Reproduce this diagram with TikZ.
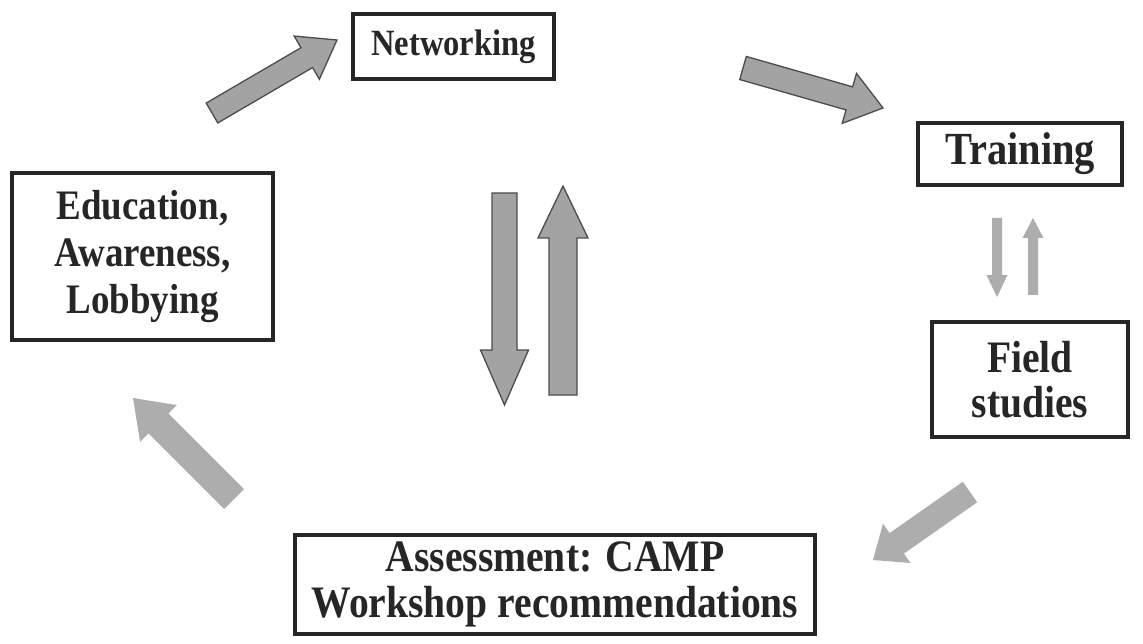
\documentclass[tikz,border=0pt]{standalone}
\usepackage{fontspec}
\setmainfont{Liberation Serif}[FakeStretch=0.88]
\usetikzlibrary{calc}
\tikzset{box/.style={draw=black!85,line width=3.2pt,fill=white,align=center,
           text=black!85,font=\bfseries,inner sep=0pt},
         darkarrow/.style={fill=gray!72,draw=black!70,line width=1.3pt,line join=miter},
         lightarrow/.style={fill=gray!64}}
% block arrow: style, tail, tip, half shaft, half head, head length
\newcommand{\blockarrow}[6][]{%
  \coordinate (ba-b) at ($(#3)!#6!(#2)$);
  \path[#1] ($(#2)!#4!90:(#3)$) -- ($(ba-b)!#4!90:(#3)$) -- ($(ba-b)!#5!90:(#3)$)
    -- (#3) -- ($(ba-b)!#5!-90:(#3)$) -- ($(ba-b)!#4!-90:(#3)$)
    -- ($(#2)!#4!-90:(#3)$) -- cycle;}

\begin{document}
\begin{tikzpicture}[x=1pt,y=-1pt]
        \useasboundingbox[fill=white](0,0)rectangle(1143,644);

        \node[box, minimum width=201pt, minimum height=65pt, font=\bfseries\fontsize{37}{45}\selectfont](net)at(453.5,46.5){Networking};
        \node[box, minimum width=204pt, minimum height=62pt, font=\bfseries\fontsize{46}{47}\selectfont](train)at(1020,154){Training};
        \node[box, minimum width=261pt, minimum height=167pt, font=\bfseries\fontsize{42}{47}\selectfont](edu)at(142.5,256.5){Education,\\Awareness,\\Lobbying};
        \node[box, minimum width=196pt, minimum height=115pt, font=\bfseries\fontsize{45}{45}\selectfont](field)at(1030,379.5){Field\\studies};
        \node[box, minimum width=520pt, minimum height=99pt, font=\bfseries\fontsize{45}{46}\selectfont](assess)at(555,584.5){Assessment: CAMP\\Workshop recommendations};

        % arrows round the cycle
        \coordinate (neT)at(212,113); \coordinate (neH)at(337,40);
        \coordinate (seT)at(743,68);  \coordinate (seH)at(883,108);
        \coordinate (swT)at(970,492); \coordinate (swH)at(873,560);
        \coordinate (nwT)at(234,499); \coordinate (nwH)at(133,398);
        \blockarrow[darkarrow]{neT}{neH}{11.5pt}{25pt}{35pt}
        \blockarrow[darkarrow]{seT}{seH}{12pt}{26pt}{35pt}
        \blockarrow[lightarrow]{swT}{swH}{12.5pt}{24pt}{29pt}
        \blockarrow[lightarrow]{nwT}{nwH}{14pt}{26pt}{36pt}

        % up and down
        \coordinate (dnT)at(504.5,193); \coordinate (dnH)at(504.5,405);
        \coordinate (upT)at(563,395);   \coordinate (upH)at(563,186);
        \blockarrow[darkarrow]{dnT}{dnH}{12.5pt}{24pt}{55pt}
        \blockarrow[darkarrow]{upT}{upH}{14pt}{25pt}{52pt}
        \coordinate (tfT)at(997,218);  \coordinate (tfH)at(997,297);
        \coordinate (ftT)at(1033,295); \coordinate (ftH)at(1033,218);
        \blockarrow[lightarrow]{tfT}{tfH}{5pt}{10.5pt}{22pt}
        \blockarrow[lightarrow]{ftT}{ftH}{5pt}{10.5pt}{20pt}
    \end{tikzpicture}
\end{document}
